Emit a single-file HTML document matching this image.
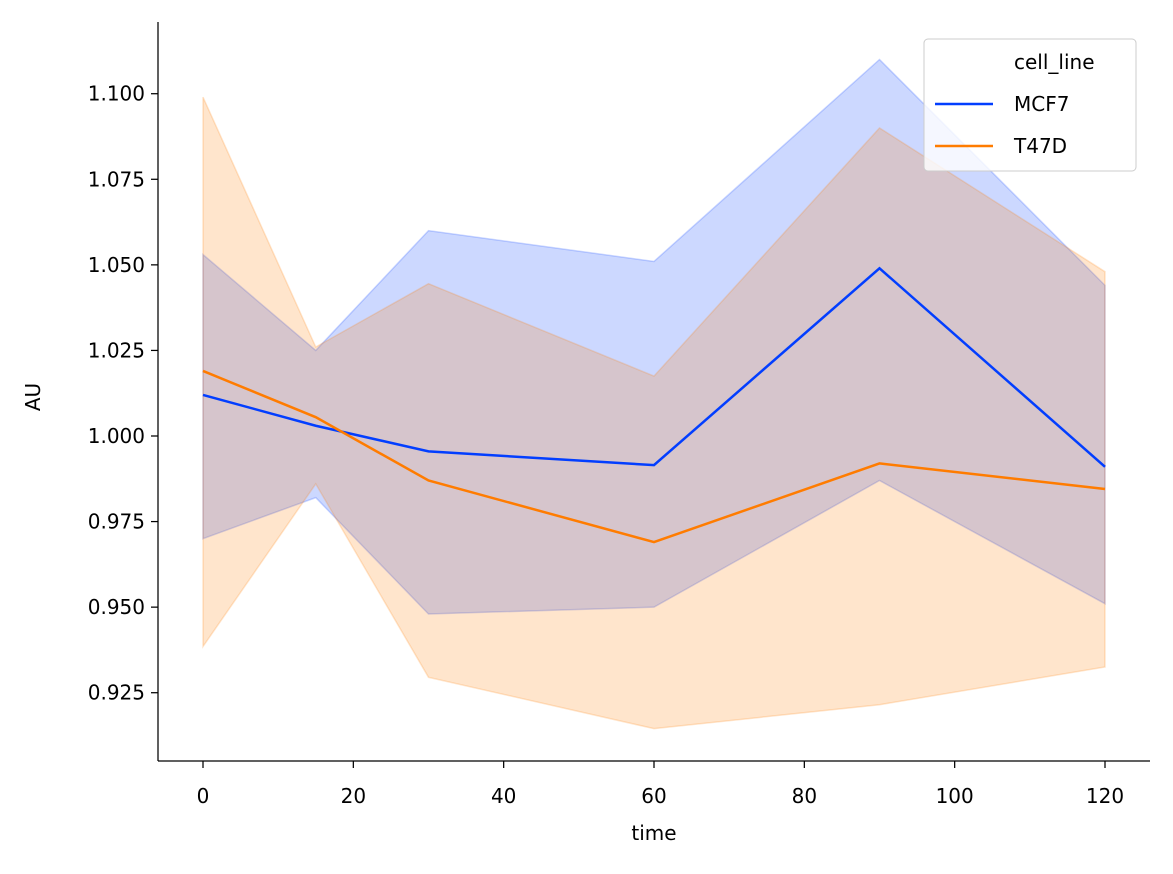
<!DOCTYPE html>
<html><head><meta charset="utf-8"><style>
body{margin:0;background:#fff;font-family:"Liberation Sans","DejaVu Sans",sans-serif;}
text{font-family:"DejaVu Sans","Liberation Sans",sans-serif;}
</style></head><body>
<svg id="chart" width="1173" height="869" viewBox="0 0 1173 869"></svg>
<script>
const times=[0,15,30,60,90,120];
const mcf7Mean=[1.012,1.003,0.9955,0.9915,1.049,0.991];
const mcf7Upper=[1.053,1.025,1.060,1.051,1.110,1.044];
const mcf7Lower=[0.970,0.982,0.948,0.950,0.987,0.951];
const t47dMean=[1.019,1.0055,0.987,0.969,0.992,0.9845];
const t47dUpper=[1.099,1.026,1.0445,1.0175,1.090,1.048];
const t47dLower=[0.9385,0.986,0.9295,0.9145,0.9215,0.9325];
const xTicks=[0,20,40,60,80,100,120];
const yTicks=[0.925,0.950,0.975,1.000,1.025,1.050,1.075,1.100];
const yTickLabels=["0.925","0.950","0.975","1.000","1.025","1.050","1.075","1.100"];

const NS="http://www.w3.org/2000/svg";
const svg=document.getElementById('chart');
const X=v=>203+(v-0)*(1105-203)/120;
const Y=v=>436-(v-1.0)*(599/0.175);
function el(t,a,p){const e=document.createElementNS(NS,t);for(const k in a)e.setAttribute(k,a[k]);(p||svg).appendChild(e);return e;}

function band(up,lo,color,name){
  let d=times.map((t,i)=>(i?'L':'M')+X(t)+','+Y(up[i])).join('');
  for(let i=times.length-1;i>=0;i--)d+='L'+X(times[i])+','+Y(lo[i]);
  const p=el('path',{d:d+'Z',fill:color,'fill-opacity':0.2,stroke:color,'stroke-opacity':0.2,'stroke-width':1.5});
  
  
}
function line(m,color,name){
  const p=el('path',{d:times.map((t,i)=>(i?'L':'M')+X(t)+','+Y(m[i])).join(''),fill:'none',stroke:color,'stroke-width':2.5});
  
  
}
band(mcf7Upper,mcf7Lower,'#023eff','mcf7-ci-band');
band(t47dUpper,t47dLower,'#ff7c00','t47d-ci-band');
line(mcf7Mean,'#023eff','mcf7-line');
line(t47dMean,'#ff7c00','t47d-line');

const FS=20;
const ax=el('g',{});


el('line',{x1:158,y1:22,x2:158,y2:761,stroke:'#000','stroke-width':1.25},ax);
el('line',{x1:158,y1:761,x2:1150,y2:761,stroke:'#000','stroke-width':1.25},ax);
xTicks.forEach(v=>{
  el('line',{x1:X(v),y1:761,x2:X(v),y2:768,stroke:'#000','stroke-width':1.25},ax);
  const t=el('text',{x:X(v),y:803,'text-anchor':'middle','font-size':FS},ax);t.textContent=v;
  
  
});
yTicks.forEach((v,i)=>{
  el('line',{x1:151,y1:Y(v),x2:158,y2:Y(v),stroke:'#000','stroke-width':1.25},ax);
  const t=el('text',{x:145,y:Y(v)+7,'text-anchor':'end','font-size':FS},ax);t.textContent=yTickLabels[i];
  
  
});
const xt=el('text',{x:654,y:840,'text-anchor':'middle','font-size':FS});xt.textContent='time';


const yt=el('text',{x:40,y:397,'text-anchor':'middle','font-size':FS,transform:'rotate(-90 40 397)'});yt.textContent='AU';



const lg=el('g',{});


el('rect',{x:924,y:39,width:212,height:132,rx:4,fill:'#fff','fill-opacity':0.8,stroke:'#ccc'},lg);
const lt=el('text',{x:1014,y:69,'font-size':FS},lg);lt.textContent='cell_line';
[['MCF7','#023eff',111],['T47D','#ff7c00',153]].forEach(([n,c,y])=>{
  el('line',{x1:935,y1:y-7,x2:993,y2:y-7,stroke:c,'stroke-width':2.5},lg);
  const t=el('text',{x:1014,y:y,'font-size':FS},lg);t.textContent=n;
  
  
});
</script>
</body></html>
